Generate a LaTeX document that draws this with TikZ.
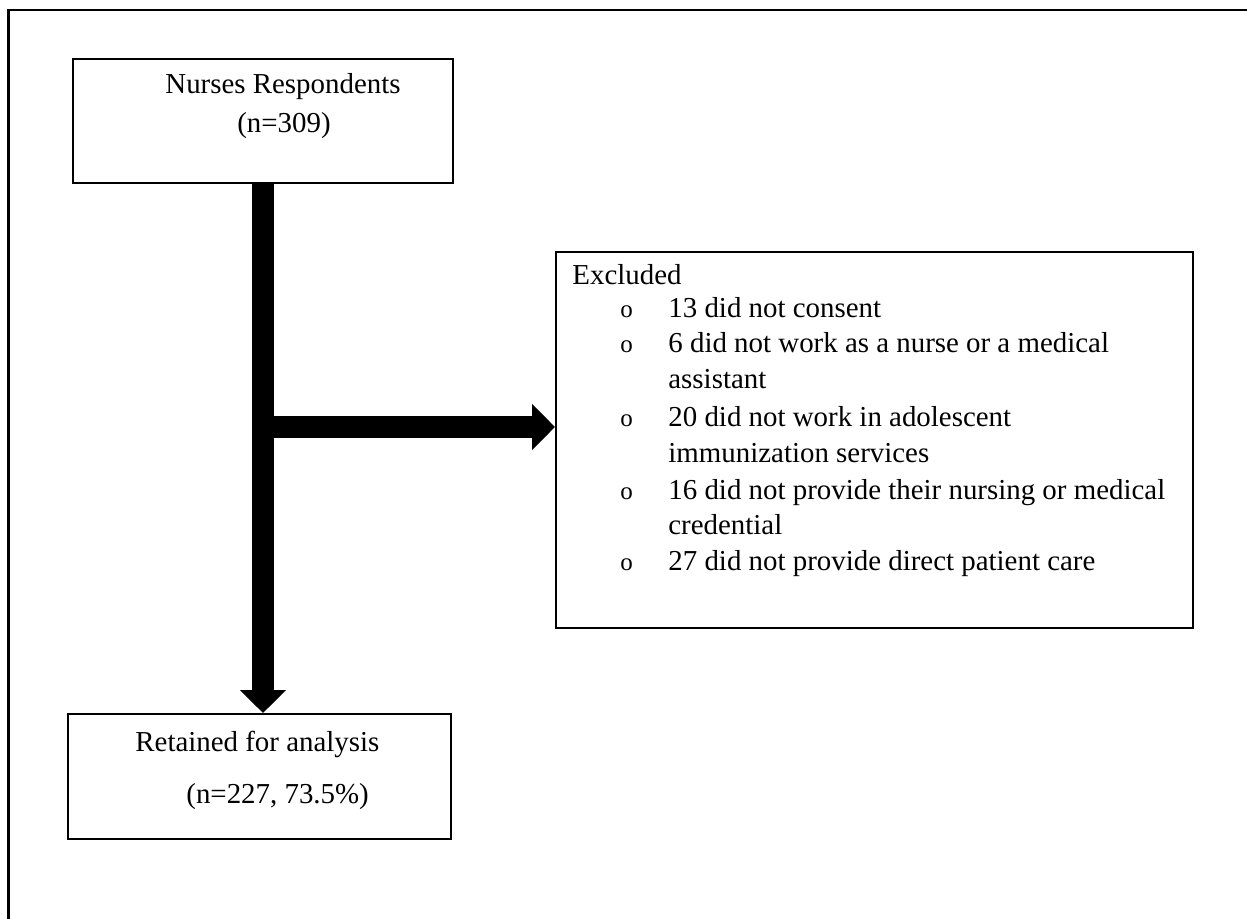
\documentclass[tikz,border=0pt]{standalone}
\usepackage{fontspec}
\setmainfont{Liberation Serif}
\usetikzlibrary{positioning,arrows.meta}

\begin{document}
\begin{tikzpicture}[
  x=0.5pt, y=-0.5pt,
  font=\fontsize{14.45}{18}\selectfont,
  box/.style={draw, line width=1pt, anchor=north west, inner sep=0pt},
  txt/.style={anchor=base west, inner sep=0pt},
  flow/.style={-{Triangle[length=11.5pt,width=22.5pt]}, line width=11pt},
]
\useasboundingbox (0,0) rectangle (1247,919);
\draw[line width=1.4pt] (8.5,919) -- (8.5,10) -- (1247,10);

% boxes
\node[box, minimum width=190pt, minimum height=62pt] (resp) at (72,58) {};
\node[box, minimum width=318.5pt, minimum height=188pt] (excl) at (555,251) {};
\node[box, minimum width=191.5pt, minimum height=62.5pt] (ret) at (67,713) {};

% texts
\node[anchor=base, inner sep=0pt] (resp1) at (283,94) {Nurses Respondents};
\node[anchor=base, inner sep=0pt] (resp2) at (284,133) {(n=309)};
\node[txt] (ret1) at (135,751) {Retained for analysis};
\node[txt] (ret2) at (186,803) {(n=227, 73.5\%)};
\node[txt] (excl0) at (572,285) {Excluded};
\foreach \yy in {318,353,427,499,570}
  \node[txt, font=\fontsize{12.5}{14}\selectfont] at (620,\yy) {o};
\foreach \yy/\tt [count=\i] in {
    318/13 did not consent,
    353/6 did not work as a nurse or a medical,
    389/assistant,
    427/20 did not work in adolescent,
    462/immunization services,
    499/16 did not provide their nursing or medical,
    534/credential,
    570/27 did not provide direct patient care}
  \node[txt] (excl\i) at (668,\yy) {\tt};

% arrows
\coordinate (split) at (resp.south |- 0,427);
\draw[flow] (resp.south) -- (resp.south |- ret.north);
\draw[flow] (split) -- (split -| excl.west);

\end{tikzpicture}
\end{document}
